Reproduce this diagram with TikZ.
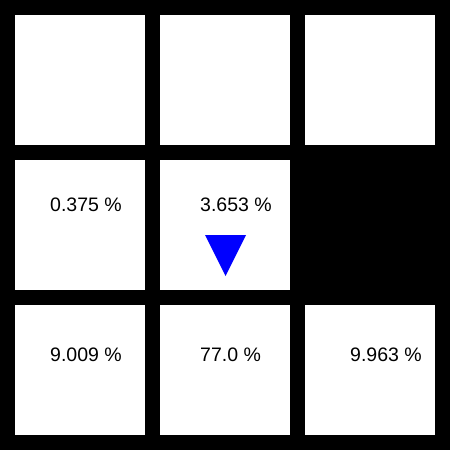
\documentclass[tikz,border=0pt]{standalone}
\usepackage{fontspec}
\setmainfont{Liberation Sans}
\begin{document}
\begin{tikzpicture}[x=1pt,y=-1pt,
  cell/.style={fill=white,draw=none},
  lbl/.style={anchor=base west,inner sep=0pt,font=\fontsize{19.5}{22}\selectfont,text=black},
  tri/.style={fill=blue,draw=none}]
\fill[black] (0,0) rectangle (450,450);
\useasboundingbox (0,0) rectangle (450,450);
\fill[cell] (15,15) rectangle (145,145);
\fill[cell] (160,15) rectangle (290,145);
\fill[cell] (305,15) rectangle (435,145);
\fill[cell] (15,160) rectangle (145,290);
\fill[cell] (160,160) rectangle (290,290);
\fill[cell] (15,305) rectangle (145,435);
\fill[cell] (160,305) rectangle (290,435);
\fill[cell] (305,305) rectangle (435,435);
\node[lbl] (a) at (50,211.7) {0.375 \%};
\node[lbl] (b) at (200,211.7) {3.653 \%};
\node[lbl] (c) at (50,361.7) {9.009 \%};
\node[lbl] (d) at (200,361.7) {77.0 \%};
\node[lbl] (e) at (350,361.7) {9.963 \%};
\fill[tri] (205,235) -- (246,235) -- (225.5,276) -- cycle;
\end{tikzpicture}
\end{document}
